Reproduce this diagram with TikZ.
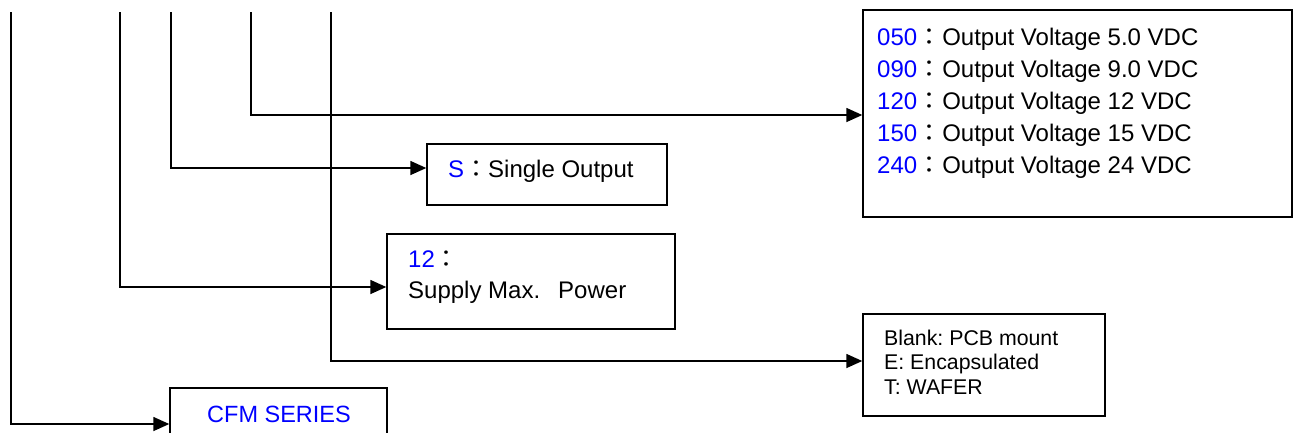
\documentclass[tikz,border=0pt]{standalone}
\usepackage{fontspec}
\setmainfont{Liberation Sans}
\newfontfamily\cjkfont{Noto Sans CJK TC}
\usetikzlibrary{arrows.meta}
\definecolor{codeblue}{RGB}{0,0,255}
\newcommand{\fwc}{{\cjkfont ：}}
\frenchspacing
\tikzset{
  boxnode/.style={draw, line width=1.4pt, rectangle, inner sep=0pt},
  conn/.style={line width=1.5pt, -{Triangle[length=16pt,width=14pt]}},
  bigtext/.style={inner sep=0pt, anchor=base west, align=left, font=\fontsize{24}{32}\selectfont},
  smalltext/.style={inner sep=0pt, anchor=base west, align=left, font=\fontsize{21.3}{24.6}\selectfont},
}
\begin{document}
\begin{tikzpicture}[x=1pt,y=-1pt]
\useasboundingbox (0,0) rectangle (1295,432);
\clip (0,0) rectangle (1295,432);
% boxes
\node[boxnode, minimum width=429pt, minimum height=207pt] (outbox) at (1077.5,113.5) {};
\node[boxnode, minimum width=240pt, minimum height=61pt] (sbox) at (547,174.5) {};
\node[boxnode, minimum width=288pt, minimum height=95pt] (pbox) at (531,281.5) {};
\node[boxnode, minimum width=242pt, minimum height=102pt] (mbox) at (984,365) {};
\node[boxnode, minimum width=217pt, minimum height=72pt] (cfm) at (278.5,424) {};
% texts (base anchor = baseline of the last line)
\node[bigtext] (outtext) at (877,173) {%
{\color{codeblue}050}\fwc\hspace{1pt}Output Voltage 5.0 VDC\\
{\color{codeblue}090}\fwc\hspace{1pt}Output Voltage 9.0 VDC\\
{\color{codeblue}120}\fwc\hspace{1pt}Output Voltage 12 VDC\\
{\color{codeblue}150}\fwc\hspace{1pt}Output Voltage 15 VDC\\
{\color{codeblue}240}\fwc\hspace{1pt}Output Voltage 24 VDC};
\node[bigtext] (stext) at (448,177) {{\color{codeblue}S}\fwc Single Output};
\node[bigtext, font=\fontsize{24}{31}\selectfont] (ptext) at (408,298) {{\color{codeblue}12}\fwc\\Supply Max.\hspace{18pt}Power};
\node[smalltext] (mtext) at (884,394.3) {Blank: PCB mount\\E: Encapsulated\\T: WAFER};
\node[bigtext, text=codeblue, font=\fontsize{23.5}{32}\selectfont] (cfmtext) at (207,422) {CFM SERIES};
% connector starts
\coordinate (t1) at (11,12);
\coordinate (t2) at (120,12);
\coordinate (t3) at (171,12);
\coordinate (t4) at (251,12);
\coordinate (t5) at (331,12);
% connectors
\draw[conn] (t1) |- (cfm.west);
\draw[conn] (t2) |- ([yshift=-5.5pt]pbox.west);
\draw[conn] (t3) |- ([yshift=6.5pt]sbox.west);
\draw[conn] (t4) |- ([yshift=-1.5pt]outbox.west);
\draw[conn] (t5) |- ([yshift=4pt]mbox.west);
\end{tikzpicture}
\end{document}
